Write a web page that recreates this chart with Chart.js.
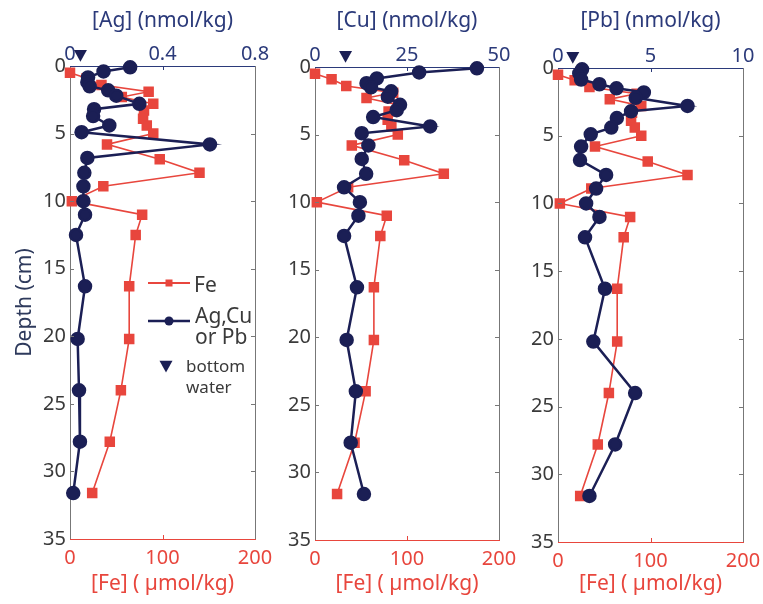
<!DOCTYPE html>
<html>
<head>
<meta charset="utf-8">
<title>Porewater profiles</title>
<script src="https://cdn.jsdelivr.net/npm/chart.js@4.4.1/dist/chart.umd.min.js"></script>
<style>
  html, body { margin: 0; padding: 0; background: #fff; overflow: hidden; }
  #wrap { position: relative; width: 763px; height: 604px; }
  #wrap canvas { position: absolute; left: 0; top: 0; }
</style>
</head>
<body>
<div id="wrap">
  <canvas id="agChart" width="763" height="604"></canvas>
  <canvas id="cuChart" width="763" height="604"></canvas>
  <canvas id="pbChart" width="763" height="604"></canvas>
</div>
<script>
// depth of each sample (cm)
const metalDepth = [0.1, 0.4, 0.85, 1.2, 1.5, 1.8, 2.2, 2.8, 3.2, 3.7, 4.4, 4.9, 5.8, 6.8, 7.9, 8.9, 10.0, 11.0, 12.5, 16.3, 20.2, 24.0, 27.8, 31.6];
const feDepth = [0.5, 0.9, 1.4, 1.9, 2.3, 2.8, 3.3, 3.9, 4.4, 5.0, 5.8, 6.9, 7.9, 8.9, 10.0, 11.0, 12.5, 16.3, 20.2, 24.0, 27.8, 31.6];

// dissolved Fe (umol/kg), same profile under each metal
const fe = [0, 18, 34, 85, 56, 90, 80, 79, 83, 90, 40, 97, 140, 36, 2, 78, 71, 64, 64, 55, 43, 24];

// dissolved metals (nmol/kg)
const ag = [0.26, 0.145, 0.078, 0.075, 0.085, 0.165, 0.2, 0.3, 0.104, 0.1, 0.17, 0.05, 0.605, 0.075, 0.062, 0.058, 0.058, 0.065, 0.026, 0.065, 0.033, 0.039, 0.043, 0.014];
const cu = [44, 28.3, 16.8, 14.0, 15.2, 20.7, 19.8, 23.1, 22.2, 15.8, 31.3, 12.7, 14.5, 12.7, 13.9, 7.9, 12.2, 11.8, 7.9, 11.4, 8.6, 11.1, 9.7, 13.3];
const pb = [1.3, 1.15, 1.25, 2.24, 3.16, 4.64, 4.2, 7.0, 3.95, 3.18, 2.88, 1.77, 1.25, 1.19, 2.6, 2.06, 1.52, 2.24, 1.46, 2.54, 1.91, 4.17, 3.09, 1.70];

// overlying (bottom) water values, plotted just above the interface
const bottomWater = { ag: 0.045, cu: 8.3, pb: 0.8 };
const bottomWaterDepth = -0.8;

const depthTicks = [0, 5, 10, 15, 20, 25, 30, 35];
const feTicks = [0, 100, 200];

const RED = '#e8463d';
const NAVY = '#1b1f55';
const NAVY_TEXT = '#2b3a7a';
const GRAY = '#3a3a3a';
const FONT = "'Noto Sans', sans-serif";

function pairs(xs, ys) {
    return xs.map((x, i) => ({ x: x, y: ys[i] }));
}

// draws the right edge, inward tick marks, the bottom-water marker and (optionally) the key
const profilePlugin = {
    id: 'profile',
    afterDatasetsDraw(chart, args, opts) {
        const { ctx, chartArea: a, scales } = chart;
        ctx.save();
        ctx.lineWidth = 1;

        ctx.strokeStyle = '#777';
        ctx.beginPath();
        ctx.moveTo(a.right + 0.5, a.top);
        ctx.lineTo(a.right + 0.5, a.bottom);
        ctx.stroke();

        // depth ticks on both sides, pointing in
        depthTicks.slice(1, -1).forEach(v => {
            const py = Math.round(scales.y.getPixelForValue(v)) + 0.5;
            ctx.beginPath();
            ctx.moveTo(a.left, py); ctx.lineTo(a.left + 4, py);
            ctx.moveTo(a.right, py); ctx.lineTo(a.right - 4, py);
            ctx.stroke();
        });
        // middle ticks on top and bottom axes
        const mx = Math.round(scales.xm.getPixelForValue(opts.mid)) + 0.5;
        ctx.strokeStyle = NAVY_TEXT;
        ctx.beginPath(); ctx.moveTo(mx, a.top); ctx.lineTo(mx, a.top + 4); ctx.stroke();
        const fx = Math.round(scales.xfe.getPixelForValue(100)) + 0.5;
        ctx.strokeStyle = RED;
        ctx.beginPath(); ctx.moveTo(fx, a.bottom); ctx.lineTo(fx, a.bottom - 4); ctx.stroke();

        // bottom water marker
        const tx = scales.xm.getPixelForValue(opts.bottomWater);
        const ty = scales.y.getPixelForValue(bottomWaterDepth);
        drawTriangle(ctx, tx, ty, 6.5);

        if (opts.key) drawKey(ctx, a);
        ctx.restore();
    }
};

function drawTriangle(ctx, x, y, r) {
    ctx.fillStyle = NAVY;
    ctx.beginPath();
    ctx.moveTo(x - r, y - r * 0.8);
    ctx.lineTo(x + r, y - r * 0.8);
    ctx.lineTo(x, y + r * 1.0);
    ctx.closePath();
    ctx.fill();
}

function drawKey(ctx, a) {
    const x0 = a.left + 78, x1 = a.left + 120, xc = (x0 + x1) / 2;
    const y1 = a.top + 217, y2 = a.top + 255;
    ctx.lineWidth = 2;
    ctx.strokeStyle = RED;
    ctx.beginPath(); ctx.moveTo(x0, y1); ctx.lineTo(x1, y1); ctx.stroke();
    ctx.fillStyle = RED;
    ctx.fillRect(xc - 3.5, y1 - 3.5, 7, 7);

    ctx.lineWidth = 2.5;
    ctx.strokeStyle = NAVY;
    ctx.beginPath(); ctx.moveTo(x0, y2); ctx.lineTo(x1, y2); ctx.stroke();
    ctx.fillStyle = NAVY;
    ctx.beginPath(); ctx.arc(xc, y2, 4.5, 0, Math.PI * 2); ctx.fill();

    drawTriangle(ctx, a.left + 96, a.top + 300, 6.5);

    ctx.fillStyle = GRAY;
    ctx.textBaseline = 'middle';
    ctx.textAlign = 'left';
    ctx.font = '21px ' + FONT;
    ctx.fillText('Fe', x1 + 4, y1 + 3);
    ctx.fillText('Ag,Cu', x1 + 5, y2 - 4);
    ctx.fillText('or Pb', x1 + 5, y2 + 17);
    ctx.font = '17px ' + FONT;
    ctx.fillText('bottom', a.left + 116, a.top + 301);
    ctx.fillText('water', a.left + 116, a.top + 322);
}

function makePanel(id, p) {
    const yWidth = p.yWidth;
    new Chart(document.getElementById(id), {
        type: 'scatter',
        data: {
            datasets: [
                {
                    label: p.metalName,
                    data: pairs(p.values, metalDepth),
                    xAxisID: 'xm',
                    showLine: true,
                    borderColor: NAVY,
                    backgroundColor: NAVY,
                    borderWidth: 2.5,
                    pointStyle: 'circle',
                    pointRadius: 6,
                    clip: false
                },
                {
                    label: 'Fe',
                    data: pairs(fe, feDepth),
                    xAxisID: 'xfe',
                    showLine: true,
                    borderColor: RED,
                    backgroundColor: RED,
                    borderWidth: 1.6,
                    pointStyle: 'rect',
                    pointRadius: 6.3,
                    clip: false
                }
            ]
        },
        options: {
            responsive: false,
            animation: false,
            events: [],
            layout: {
                padding: { left: p.left - yWidth, right: 763 - p.right, top: 0, bottom: 0 }
            },
            plugins: {
                legend: { display: false },
                tooltip: { enabled: false },
                profile: { mid: p.max / 2, bottomWater: p.bottomWater, key: p.key }
            },
            scales: {
                y: {
                    type: 'linear',
                    reverse: true,
                    min: 0,
                    max: 35,
                    afterBuildTicks: s => { s.ticks = depthTicks.map(v => ({ value: v })); },
                    afterFit: s => { s.width = yWidth; s.paddingTop = 0; s.paddingBottom = 0; },
                    grid: { drawOnChartArea: false, drawTicks: false },
                    border: { color: '#777', width: 1 },
                    ticks: { color: GRAY, padding: 4, font: { family: FONT, size: 20 } },
                    title: {
                        display: p.key,
                        text: 'Depth (cm)',
                        color: '#2e3a5c',
                        padding: { top: 12, bottom: 0 },
                        font: { family: FONT, size: 21 }
                    }
                },
                xm: {
                    type: 'linear',
                    position: 'top',
                    min: 0,
                    max: p.max,
                    afterBuildTicks: s => { s.ticks = [0, p.max / 2, p.max].map(v => ({ value: v })); },
                    afterFit: s => { s.height = p.top; s.paddingLeft = 0; s.paddingRight = 0; },
                    grid: { drawOnChartArea: false, drawTicks: false },
                    border: { color: NAVY_TEXT, width: 1, dash: [4, 3] },
                    ticks: { color: NAVY_TEXT, padding: 0, maxRotation: 0, font: { family: FONT, size: 20 } },
                    title: {
                        display: true,
                        text: p.metalTitle,
                        color: NAVY_TEXT,
                        padding: { top: 8, bottom: 0 },
                        font: { family: FONT, size: 21 }
                    }
                },
                xfe: {
                    type: 'linear',
                    position: 'bottom',
                    min: 0,
                    max: 200,
                    afterBuildTicks: s => { s.ticks = feTicks.map(v => ({ value: v })); },
                    afterFit: s => { s.height = 604 - p.bottom; s.paddingLeft = 0; s.paddingRight = 0; },
                    grid: { drawOnChartArea: false, drawTicks: false },
                    border: { color: RED, width: 1 },
                    ticks: { color: RED, padding: 7, maxRotation: 0, font: { family: FONT, size: 20 } },
                    title: {
                        display: true,
                        text: '[Fe] ( \u00b5mol/kg)',
                        color: RED,
                        padding: { top: 0, bottom: 7 },
                        font: { family: FONT, size: 21 }
                    }
                }
            }
        },
        plugins: [profilePlugin]
    });
}

makePanel('agChart', {
    metalName: 'Ag', metalTitle: '[Ag] (nmol/kg)', values: ag, max: 0.8,
    bottomWater: bottomWater.ag, key: true,
    yWidth: 70, left: 70, right: 255, top: 66, bottom: 539
});
makePanel('cuChart', {
    metalName: 'Cu', metalTitle: '[Cu] (nmol/kg)', values: cu, max: 50,
    bottomWater: bottomWater.cu, key: false,
    yWidth: 52, left: 315, right: 499, top: 67, bottom: 540
});
makePanel('pbChart', {
    metalName: 'Pb', metalTitle: '[Pb] (nmol/kg)', values: pb, max: 10,
    bottomWater: bottomWater.pb, key: false,
    yWidth: 53, left: 558, right: 743, top: 68, bottom: 542
});
</script>
</body>
</html>
